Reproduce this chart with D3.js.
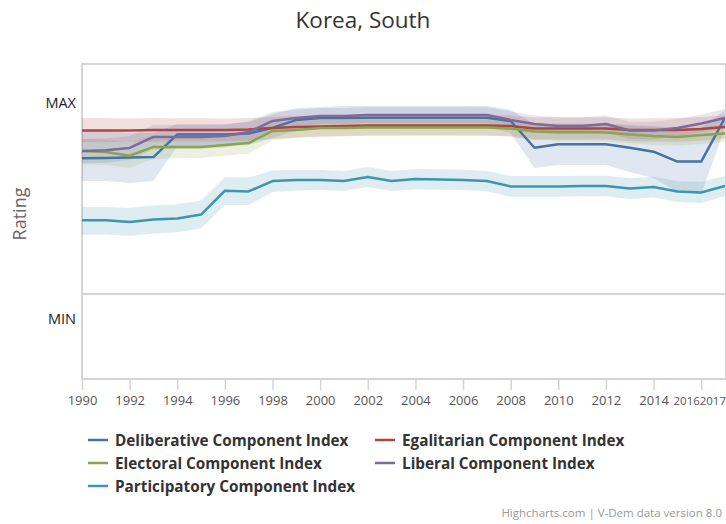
<!DOCTYPE html>
<html>
<head>
<meta charset="utf-8">
<script src="https://cdn.jsdelivr.net/npm/d3@7"></script>
<style>
  html, body { margin: 0; padding: 0; background: #fff; }
  svg { display: block; font-family: "Open Sans", "Noto Sans", sans-serif; }
</style>
</head>
<body>
<svg id="chart" width="726" height="524"></svg>
<script>
// ---------- data ----------
const years = d3.range(1990, 2018);
const xTicks = [1990,1992,1994,1996,1998,2000,2002,2004,2006,2008,2010,2012,2014,2016];
const xLastLabel = 2017;
const yTickValues = [1, 0];
const yTickLabels = ["MAX", "MIN"];

const seriesNames = [
  "Deliberative Component Index",
  "Egalitarian Component Index",
  "Electoral Component Index",
  "Liberal Component Index",
  "Participatory Component Index"
];
const seriesColors = ["#4572A7", "#AA4643", "#89A54E", "#80699B", "#3D96AE"];

const deliberative = [0.628,0.630,0.632,0.634,0.739,0.739,0.739,0.743,0.769,0.806,0.815,0.815,0.816,0.816,0.816,0.816,0.816,0.816,0.801,0.677,0.693,0.693,0.693,0.677,0.659,0.613,0.613,0.816];
const deliberativeLo = [0.523,0.523,0.514,0.523,0.685,0.685,0.685,0.690,0.722,0.759,0.769,0.773,0.773,0.773,0.773,0.773,0.773,0.773,0.745,0.583,0.597,0.597,0.597,0.565,0.537,0.472,0.463,0.769];
const deliberativeHi = [0.755,0.755,0.745,0.745,0.787,0.787,0.787,0.796,0.833,0.861,0.866,0.870,0.870,0.870,0.870,0.870,0.870,0.870,0.852,0.787,0.787,0.787,0.787,0.782,0.778,0.769,0.769,0.852];

const egalitarian = [0.757,0.757,0.757,0.759,0.759,0.759,0.759,0.762,0.769,0.773,0.775,0.778,0.780,0.780,0.780,0.780,0.780,0.780,0.778,0.766,0.766,0.766,0.766,0.759,0.759,0.759,0.764,0.773];
const egalitarianLo = [0.702,0.702,0.703,0.705,0.706,0.706,0.707,0.710,0.718,0.724,0.727,0.730,0.733,0.733,0.734,0.734,0.733,0.733,0.730,0.716,0.715,0.715,0.716,0.707,0.706,0.705,0.710,0.720];
const egalitarianHi = [0.815,0.815,0.813,0.815,0.814,0.814,0.813,0.815,0.821,0.824,0.826,0.828,0.829,0.829,0.828,0.828,0.829,0.829,0.828,0.817,0.818,0.818,0.818,0.813,0.814,0.815,0.820,0.826];

const electoral = [0.662,0.657,0.640,0.681,0.681,0.681,0.690,0.699,0.755,0.759,0.769,0.769,0.771,0.771,0.771,0.771,0.771,0.771,0.766,0.752,0.750,0.750,0.748,0.738,0.731,0.727,0.736,0.743];
const electoralLo = [0.600,0.598,0.585,0.625,0.628,0.630,0.640,0.650,0.712,0.722,0.733,0.733,0.735,0.735,0.735,0.735,0.735,0.735,0.728,0.712,0.710,0.710,0.708,0.698,0.690,0.686,0.695,0.703];
const electoralHi = [0.718,0.715,0.700,0.735,0.735,0.735,0.742,0.750,0.795,0.798,0.806,0.806,0.808,0.808,0.808,0.808,0.808,0.808,0.804,0.792,0.790,0.790,0.789,0.779,0.773,0.769,0.778,0.784];

const liberal = [0.662,0.665,0.676,0.727,0.727,0.727,0.731,0.750,0.801,0.815,0.824,0.824,0.829,0.829,0.829,0.829,0.829,0.829,0.806,0.787,0.778,0.778,0.787,0.757,0.757,0.769,0.789,0.815];
const liberalLo = [0.605,0.608,0.620,0.670,0.672,0.673,0.678,0.700,0.757,0.776,0.787,0.788,0.793,0.793,0.793,0.793,0.793,0.792,0.768,0.748,0.740,0.740,0.748,0.718,0.717,0.729,0.748,0.772];
const liberalHi = [0.718,0.720,0.732,0.783,0.782,0.781,0.784,0.800,0.843,0.853,0.861,0.861,0.866,0.866,0.866,0.866,0.866,0.865,0.845,0.826,0.817,0.817,0.826,0.797,0.798,0.810,0.830,0.858];

const participatory = [0.341,0.341,0.333,0.345,0.350,0.368,0.478,0.475,0.523,0.528,0.528,0.523,0.542,0.523,0.532,0.530,0.528,0.523,0.498,0.498,0.498,0.500,0.500,0.488,0.495,0.475,0.470,0.500];
const participatoryLo = [0.273,0.275,0.268,0.280,0.286,0.303,0.412,0.412,0.472,0.479,0.481,0.477,0.495,0.477,0.485,0.483,0.481,0.476,0.450,0.450,0.450,0.452,0.452,0.440,0.447,0.426,0.421,0.453];
const participatoryHi = [0.403,0.403,0.398,0.410,0.416,0.433,0.541,0.539,0.572,0.575,0.574,0.570,0.588,0.570,0.579,0.577,0.575,0.570,0.546,0.546,0.546,0.548,0.548,0.536,0.543,0.522,0.518,0.547];

const seriesValues = [deliberative, egalitarian, electoral, liberal, participatory];
const seriesLo = [deliberativeLo, egalitarianLo, electoralLo, liberalLo, participatoryLo];
const seriesHi = [deliberativeHi, egalitarianHi, electoralHi, liberalHi, participatoryHi];

// ---------- layout ----------
const svg = d3.select("#chart");
const plot = { left: 82, top: 64, right: 725, bottom: 379 };
const x = d3.scaleLinear().domain([1990, 2017]).range([plot.left, plot.right]);
const y = d3.scaleLinear().domain([0, 1]).range([294, 78]);

svg.append("defs").append("clipPath").attr("id", "clip")
  .append("rect").attr("x", plot.left).attr("y", plot.top)
  .attr("width", plot.right - plot.left).attr("height", plot.bottom - plot.top);

// title
svg.append("text").attr("x", 363).attr("y", 28).attr("text-anchor", "middle")
  .attr("font-size", 22.5).attr("fill", "#333").text("Korea, South");

// plot border + separator
svg.append("rect").attr("x", plot.left).attr("y", plot.top)
  .attr("width", plot.right - plot.left + 1).attr("height", plot.bottom - plot.top)
  .attr("fill", "none").attr("stroke", "#d4d4d4").attr("stroke-width", 2);
svg.append("line").attr("x1", plot.left).attr("x2", plot.right + 1)
  .attr("y1", y(0)).attr("y2", y(0)).attr("stroke", "#d4d4d4").attr("stroke-width", 2);

// y tick labels
yTickValues.forEach((v, i) => {
  svg.append("text").attr("x", 76).attr("y", y(v) + 30).attr("text-anchor", "end")
    .attr("font-size", 14.5).attr("fill", "#222").text(yTickLabels[i]);
});
// y axis title
svg.append("text").attr("transform", "translate(26,214) rotate(-90)")
  .attr("text-anchor", "middle").attr("font-size", 18).attr("fill", "#666").text("Rating");

// x axis ticks and labels
const xAxis = d3.axisBottom(x).tickValues(xTicks).tickSize(11).tickPadding(5).tickFormat(d3.format("d"));
const gx = svg.append("g").attr("transform", `translate(0,${plot.bottom})`).call(xAxis);
gx.select(".domain").remove();
gx.selectAll(".tick line").attr("stroke", "#d4d4d4").attr("stroke-width", 1.5);
gx.selectAll(".tick text").attr("font-size", 13).attr("fill", "#555").attr("font-family", "Open Sans")
  .attr("dy", null).attr("y", 25.5);
gx.selectAll(".tick").filter((d) => d === 2016).select("text").attr("dx", -15).attr("font-size", 11.5);
svg.append("text").attr("x", 726).attr("y", plot.bottom + 25.5).attr("text-anchor", "end")
  .attr("font-size", 11.5).attr("fill", "#555").text(xLastLabel);

// bands
const g = svg.append("g").attr("clip-path", "url(#clip)");
const area = d3.area().x((d) => x(d.year)).y0((d) => y(d.lo)).y1((d) => y(d.hi));
const line = d3.line().x((d) => x(d.year)).y((d) => y(d.v));
seriesValues.forEach((vals, i) => {
  const data = years.map((yr, j) => ({ year: yr, v: vals[j], lo: seriesLo[i][j], hi: seriesHi[i][j] }));
  g.append("path").datum(data).attr("d", area)
    .attr("fill", seriesColors[i]).attr("fill-opacity", 0.17).attr("stroke", "none");
});
seriesValues.forEach((vals, i) => {
  const data = years.map((yr, j) => ({ year: yr, v: vals[j] }));
  g.append("path").datum(data).attr("d", line)
    .attr("fill", "none").attr("stroke", seriesColors[i]).attr("stroke-width", 2.5)
    .attr("stroke-linejoin", "round");
});

// legend
const legendPos = [
  { x: 88, y: 440 }, { x: 375, y: 440 },
  { x: 88, y: 463 }, { x: 375, y: 463 },
  { x: 88, y: 486 }
];
seriesNames.forEach((name, i) => {
  const p = legendPos[i];
  svg.append("line").attr("x1", p.x).attr("x2", p.x + 20).attr("y1", p.y).attr("y2", p.y)
    .attr("stroke", seriesColors[i]).attr("stroke-width", 2.5);
  svg.append("text").attr("x", p.x + 27).attr("y", p.y + 5.5).attr("font-size", 15.3)
    .attr("font-weight", "bold").attr("fill", "#333").text(name);
});

// credits
svg.append("text").attr("x", 722).attr("y", 517).attr("text-anchor", "end")
  .attr("font-size", 11.5).attr("fill", "#999").text("Highcharts.com | V-Dem data version 8.0");
</script>
</body>
</html>
